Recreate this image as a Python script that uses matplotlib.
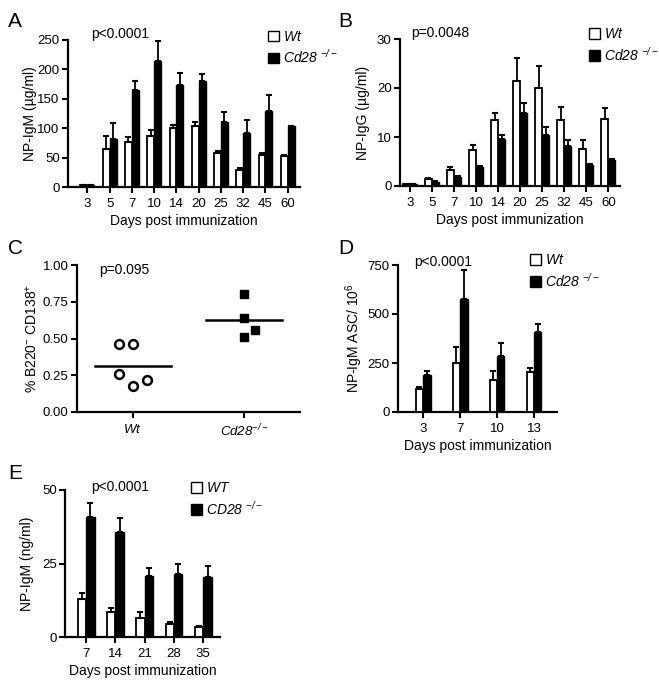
import numpy as np
import matplotlib
matplotlib.use("Agg")
import matplotlib.pyplot as plt
from matplotlib.patches import Patch

plt.rcParams.update({
    "font.family": "Liberation Sans",
    "mathtext.fontset": "custom",
    "mathtext.rm": "Liberation Sans:italic",
    "mathtext.it": "Liberation Sans:italic",
    "font.size": 9,
})

# Panel A: NP-IgM (ug/ml)
days_a = ["3", "5", "7", "10", "14", "20", "25", "32", "45", "60"]
wt_a = [4, 65, 76, 86, 101, 103, 57, 29, 54, 52]
wt_a_err = [0, 21, 9, 11, 4, 8, 5, 4, 4, 2]
ko_a = [4, 82, 165, 214, 173, 181, 111, 91, 129, 104]
ko_a_err = [0, 26, 15, 35, 21, 12, 16, 23, 27, 0]

# Panel B: NP-IgG (ug/ml)
days_b = days_a
wt_b = [0.5, 1.5, 3.3, 7.3, 13.4, 21.5, 20.1, 13.5, 7.5, 13.6]
wt_b_err = [0, 0.1, 0.5, 1.0, 1.4, 4.7, 4.4, 2.7, 1.8, 2.4]
ko_b = [0.4, 0.8, 1.8, 3.8, 9.6, 14.8, 10.4, 8.2, 4.2, 5.3]
ko_b_err = [0, 0.2, 0.3, 0.2, 0.9, 2.2, 1.7, 1.1, 0.3, 0.3]

# Panel C: % B220- CD138+
wt_c = [0.46, 0.46, 0.26, 0.18, 0.22]
wt_c_off = [-1, 0, -1, 0, 1]
ko_c = [0.80, 0.64, 0.51, 0.56]
ko_c_off = [0, 0, 0, 1]

# Panel D: NP-IgM ASC / 10^6
days_d = ["3", "7", "10", "13"]
wt_d = [119, 250, 165, 202]
wt_d_err = [11, 83, 46, 20]
ko_d = [188, 579, 286, 409]
ko_d_err = [22, 145, 67, 38]

# Panel E: NP-IgM (ng/ml)
days_e = ["7", "14", "21", "28", "35"]
wt_e = [12.8, 8.5, 6.6, 4.3, 3.4]
wt_e_err = [2.2, 1.2, 1.9, 0.8, 0.35]
ko_e = [40.7, 35.8, 20.8, 21.4, 20.5]
ko_e_err = [5.0, 4.8, 2.5, 3.6, 3.6]

W, H = 659, 690
fig = plt.figure(figsize=(W / 100, H / 100), dpi=100)


def axes_px(left, right, top, bottom):
    return fig.add_axes([left / W, 1 - bottom / H, (right - left) / W, (bottom - top) / H])


def style(ax):
    for s in ["top", "right"]:
        ax.spines[s].set_visible(False)
    for s in ["left", "bottom"]:
        ax.spines[s].set_linewidth(1.6)
    ax.tick_params(width=1.5, length=4, labelsize=9.5, pad=2)
    ax.tick_params(axis="x", pad=4)


def bars(ax, labels, wt, wt_err, ko, ko_err, w, xlim, ylim, yticks):
    x = np.arange(len(labels))
    ekw = dict(elinewidth=1.3, capthick=1.5)
    ax.bar(x - w / 2, wt, w, color="white", edgecolor="black", linewidth=1.3,
           yerr=[np.zeros(len(wt)), wt_err], capsize=2, error_kw=ekw, zorder=3)
    ax.bar(x + w / 2, ko, w, color="black", edgecolor="black", linewidth=1.0,
           yerr=[np.zeros(len(ko)), ko_err], capsize=2, error_kw=ekw, zorder=3)
    ax.set_xticks(x)
    ax.set_xticklabels(labels)
    ax.set_xlim(*xlim)
    ax.set_ylim(*ylim)
    ax.set_yticks(yticks)
    style(ax)


def legend(ax, anchor, wt_lab, ko_lab):
    h = [Patch(facecolor="white", edgecolor="black", linewidth=1.0),
         Patch(facecolor="black", edgecolor="black")]
    ax.legend(h, [wt_lab, ko_lab], loc="upper left", bbox_to_anchor=anchor,
              frameon=False, fontsize=10, handlelength=0.8, handleheight=0.8,
              handletextpad=0.3, labelspacing=0.3, borderaxespad=0, borderpad=0)


# A
axA = axes_px(68, 300, 40, 187)
bars(axA, days_a, wt_a, wt_a_err, ko_a, ko_a_err, 0.31, (-0.87, 9.55), (0, 250), range(0, 251, 50))
axA.set_ylabel("NP-IgM (µg/ml)", fontsize=10, labelpad=0)
axA.set_xlabel("Days post immunization", fontsize=10, labelpad=3)
axA.text(0.1, 1.04, "p<0.0001", transform=axA.transAxes, fontsize=10, va="center")
legend(axA, (0.86, 1.07), "$Wt$", "$Cd28$ $^{-/-}$")

# B
axB = axes_px(400, 620, 39, 186)
bars(axB, days_b, wt_b, wt_b_err, ko_b, ko_b_err, 0.32, (-0.45, 9.53), (0, 30), [0, 10, 20, 30])
axB.set_ylabel("NP-IgG (µg/ml)", fontsize=10, labelpad=5)
axB.set_xlabel("Days post immunization", fontsize=10, labelpad=3)
axB.text(0.05, 1.04, "p=0.0048", transform=axB.transAxes, fontsize=10, va="center")
legend(axB, (0.86, 1.08), "$Wt$", "$Cd28$ $^{-/-}$")

# C
axC = axes_px(77, 300, 265, 412)
dx = 0.125
axC.scatter(0.5 + dx * np.array(wt_c_off), wt_c, s=40, facecolor="white",
            edgecolor="black", linewidth=1.8, zorder=3, clip_on=False)
axC.scatter(1.5 + 0.1 * np.array(ko_c_off), ko_c, s=38, marker="s", color="black",
            zorder=3, clip_on=False)
axC.plot([0.5 - 0.34, 0.5 + 0.34], [np.mean(wt_c)] * 2, color="black", lw=1.8)
axC.plot([1.5 - 0.34, 1.5 + 0.34], [np.mean(ko_c)] * 2, color="black", lw=1.8)
axC.set_xlim(0, 2)
axC.set_ylim(0, 1)
axC.set_xticks([0.5, 1.5])
axC.set_xticklabels(["$Wt$", "$Cd28^{-/-}$"], fontsize=10)
axC.set_yticks([0, 0.25, 0.5, 0.75, 1.0])
axC.set_yticklabels(["0.00", "0.25", "0.50", "0.75", "1.00"])
style(axC)
axC.set_ylabel(r"% B220$^{\mathregular{-}}$ CD138$^{\mathregular{+}}$", fontsize=10, labelpad=2)
axC.text(0.1, 0.965, "p=0.095", transform=axC.transAxes, fontsize=10, va="center")

# D
axD = axes_px(398, 557, 265, 412)
bars(axD, days_d, wt_d, wt_d_err, ko_d, ko_d_err, 0.2, (-0.68, 3.62), (0, 750), [0, 250, 500, 750])
axD.set_ylabel(r"NP-IgM ASC/ 10$^{\mathregular{6}}$", fontsize=10, labelpad=2)
axD.set_xlabel("Days post immunization", fontsize=10, labelpad=3)
axD.text(0.1, 1.02, "p<0.0001", transform=axD.transAxes, fontsize=10, va="center")
legend(axD, (0.83, 1.08), "$Wt$", "$Cd28$ $^{-/-}$")

# E
axE = axes_px(65, 220, 490, 637)
bars(axE, days_e, wt_e, wt_e_err, ko_e, ko_e_err, 0.29, (-0.72, 4.57), (0, 50), [0, 25, 50])
axE.set_ylabel("NP-IgM (ng/ml)", fontsize=10, labelpad=6)
axE.set_xlabel("Days post immunization", fontsize=10, labelpad=3)
axE.text(0.17, 1.02, "p<0.0001", transform=axE.transAxes, fontsize=10, va="center")
legend(axE, (0.81, 1.06), "$WT$", "$CD28$ $^{-/-}$")

# panel letters
for letter, (px, py) in zip("ABCDE", [(8, 27), (338, 27), (8, 254), (338, 254), (8, 479)]):
    fig.text(px / W, 1 - py / H, letter, fontsize=15, va="baseline")

fig.savefig("out.png", dpi=100)
